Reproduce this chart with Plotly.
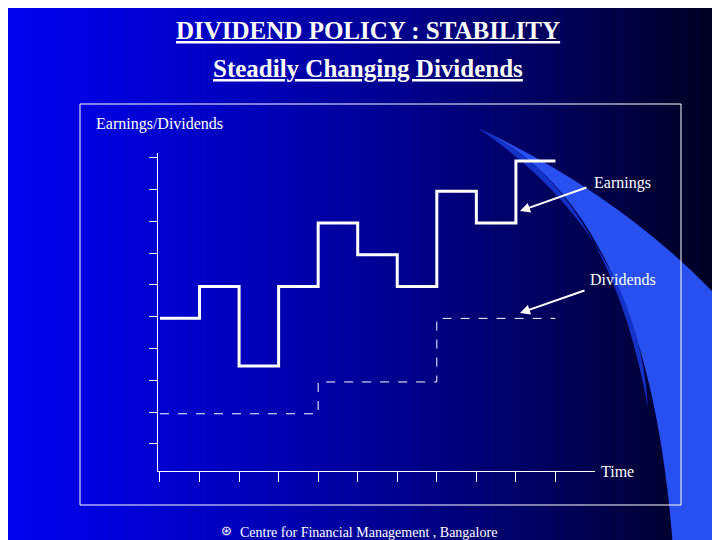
import plotly.graph_objects as go

W, H = 720, 540
periods = [0, 1, 2, 3, 4, 5, 6, 7, 8, 9, 10]
earnings = [4.8, 5.8, 3.3, 5.8, 7.8, 6.8, 5.8, 8.8, 7.8, 9.75, 9.75]
div_x = [0, 4, 7, 10]
dividends = [1.8, 2.8, 4.8, 4.8]
y_ticks = [0.85, 1.85, 2.85, 3.85, 4.85, 5.85, 6.85, 7.85, 8.85, 9.85]
x_ticks = [0, 1, 2, 3, 4, 5, 6, 7, 8, 9, 10]

def px(x): return x / W
def py(y): return 1 - y / H

shapes = []
N = 80
for i in range(N):
    t = i / (N - 1)
    b = int(235 - 205 * t ** 1.3)
    shapes.append(dict(type="rect", xref="paper", yref="paper", layer="below",
                       x0=px(i * W / N), x1=px((i + 1) * W / N + 1), y0=0, y1=1,
                       fillcolor=f"rgb(0,0,{b})", line_width=0))
def P(x, y): return f"{px(x):.4f},{py(y):.4f}"
shapes.append(dict(type="path", xref="paper", yref="paper", layer="below",
                   path=f"M {P(470,120)} Q {P(640,200)} {P(665,540)} L {P(720,540)} L {P(720,300)} Q {P(620,190)} {P(470,120)} Z",
                   fillcolor="rgb(40,80,240)", line_width=0))
shapes.append(dict(type="path", xref="paper", yref="paper", layer="below",
                   path=f"M {P(470,120)} Q {P(600,180)} {P(640,400)} Q {P(630,230)} {P(470,120)} Z",
                   fillcolor="rgb(20,50,200)", line_width=0))
shapes.append(dict(type="rect", xref="paper", yref="paper", x0=px(72), x1=px(673), y0=py(497), y1=py(96),
                   line=dict(color="white", width=1)))

fig = go.Figure()
fig.add_trace(go.Scatter(x=periods, y=earnings, mode="lines", line_shape="hv",
                         line=dict(color="white", width=3), showlegend=False))
fig.add_trace(go.Scatter(x=div_x, y=dividends, mode="lines", line_shape="hv",
                         line=dict(color="white", width=1, dash="dash"), showlegend=False))

ann = []
def T(x, y, text, size, anchor="left"):
    ann.append(dict(x=px(x), y=py(y), xref="paper", yref="paper", text=text, showarrow=False,
                    xanchor=anchor, yanchor="middle",
                    font=dict(family="Liberation Serif", size=size, color="white")))
T(360, 22, "<b><u>DIVIDEND POLICY : STABILITY</u></b>", 25, "center")
T(360, 61, "<b><u>Steadily Changing Dividends</u></b>", 25, "center")
T(86, 116, "Earnings/Dividends", 16)
T(584, 175, "Earnings", 16)
T(580, 271, "Dividends", 16)
T(591, 463, "Time", 16)
T(230, 524, "Centre for Financial Management , Bangalore", 14)
T(211, 522, "⊛", 13)
for (x0, y0, x1, y1) in [(580, 179, 512, 203), (578, 282, 512, 305)]:
    ann.append(dict(x=px(x1), y=py(y1), ax=x0 - x1, ay=y0 - y1, xref="paper", yref="paper",
                    axref="pixel", ayref="pixel", showarrow=True, arrowhead=2, arrowsize=1,
                    arrowwidth=2, arrowcolor="white", text=""))

fig.update_layout(width=W, height=H, margin=dict(l=0, r=0, t=0, b=0),
                  paper_bgcolor="rgb(0,0,200)", plot_bgcolor="rgba(0,0,0,0)",
                  shapes=shapes, annotations=ann,
                  xaxis=dict(domain=[px(150), px(587)], range=[-0.05, 11], showgrid=False, zeroline=False,
                             showline=True, linecolor="white", linewidth=1, ticks="outside",
                             tickvals=x_ticks, ticklen=10, tickcolor="white", showticklabels=False),
                  yaxis=dict(domain=[(540 - 463) / 540, (540 - 145) / 540], range=[0, 10], showgrid=False,
                             zeroline=False, showline=True, linecolor="white", linewidth=1,
                             ticks="outside", tickvals=y_ticks, ticklen=8, tickcolor="white",
                             showticklabels=False))
fig.write_html("out.html")
